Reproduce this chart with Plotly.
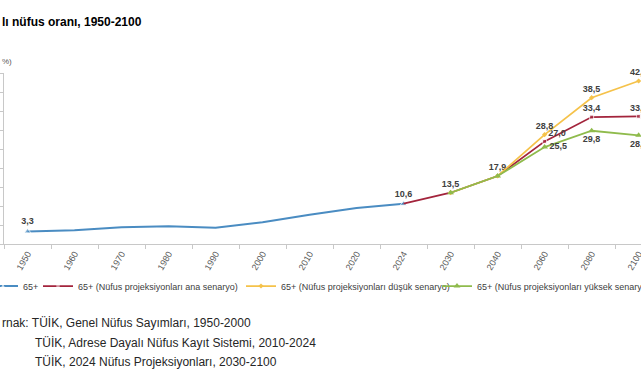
import plotly.graph_objects as go

years = ["1950", "1960", "1970", "1980", "1990", "2000", "2010", "2020", "2024",
         "2030", "2040", "2060", "2080", "2100"]
hist = [3.3, 3.6, 4.4, 4.7, 4.3, 5.7, 7.7, 9.5, 10.6, None, None, None, None, None]
main = [None] * 8 + [10.6, 13.5, 17.9, 27.0, 33.4, 33.6]
low = [None] * 9 + [13.5, 17.9, 28.8, 38.5, 42.9]
high = [None] * 9 + [13.5, 17.9, 25.5, 29.8, 28.6]

names = ["65+",
         "65+ (Nüfus projeksiyonları ana senaryo)",
         "65+ (Nüfus projeksiyonları düşük senaryo)",
         "65+ (Nüfus projeksiyonları yüksek senaryo)"]
colors = ["#4a8cc2", "#a3243c", "#f5c24a", "#8fbb4c"]

W, H = 641, 380
L, R, T, B = 4, 0, 73, 136
pw, ph = W - L - R, H - T - B


def px(x):
    return (x - L) / pw


def py(y):
    return (H - B - y) / ph


def fmt(v):
    return f"{v:.1f}".replace(".", ",")


def labels(vals, idxs):
    return [fmt(v) if (i in idxs and v is not None) else "" for i, v in enumerate(vals)]


FAM = "Liberation Sans, Arial"
lab_font = dict(family=FAM, size=9, color="#404040", weight="bold")

fig = go.Figure()

fig.add_trace(go.Scatter(
    x=years, y=hist, name=names[0], mode="lines+markers+text",
    line=dict(color=colors[0], width=2),
    marker=dict(symbol="triangle-up", size=[6 if i in (0, 8) else 0 for i in range(len(years))],
                color=colors[0]),
    text=labels(hist, {0, 8}), textposition="top center",
    textfont=lab_font, cliponaxis=False, legend="legend"))

fig.add_trace(go.Scatter(
    x=years, y=main, name=names[1], mode="lines+markers+text",
    line=dict(color=colors[1], width=1.75),
    marker=dict(symbol="square", size=[4 if i >= 9 else 0 for i in range(len(years))],
                color=colors[1]),
    text=labels(main, {9, 10, 11, 12, 13}),
    textposition=["top center"] * 11 + ["top right", "top center", "top center"],
    textfont=lab_font, cliponaxis=False, legend="legend2"))

fig.add_trace(go.Scatter(
    x=years, y=low, name=names[2], mode="lines+markers+text",
    line=dict(color=colors[2], width=1.75),
    marker=dict(symbol="diamond", size=4, color=colors[2]),
    text=labels(low, {11, 12, 13}), textposition="top center",
    textfont=lab_font, cliponaxis=False, legend="legend3"))

fig.add_trace(go.Scatter(
    x=years, y=high, name=names[3], mode="lines+markers+text",
    line=dict(color=colors[3], width=1.75),
    marker=dict(symbol="triangle-up", size=6, color=colors[3]),
    text=labels(high, {11, 12, 13}),
    textposition=["bottom center"] * 11 + ["middle right", "bottom center", "bottom center"],
    textfont=lab_font, cliponaxis=False, legend="legend4"))

leg_font = dict(family=FAM, size=9, color="#404040")
leg_y = py(286)


def leg(xpix):
    return dict(x=px(xpix), y=leg_y, xanchor="left", yanchor="middle",
                orientation="h", font=leg_font, bgcolor="rgba(0,0,0,0)",
                itemwidth=30, borderwidth=0)


src_font = dict(family=FAM, size=12, color="#262626")
ann = [
    dict(text="<b>lı nüfus oranı, 1950-2100</b>", x=px(0), y=py(22), xref="paper", yref="paper",
         xanchor="left", yanchor="middle", showarrow=False,
         font=dict(family=FAM, size=12, color="#000000")),
    dict(text="%)", x=px(0), y=py(61), xref="paper", yref="paper",
         xanchor="left", yanchor="middle", showarrow=False,
         font=dict(family=FAM, size=8, color="#595959")),
    dict(text="rnak: TÜİK, Genel Nüfus Sayımları, 1950-2000", x=px(0), y=py(323),
         xref="paper", yref="paper", xanchor="left", yanchor="middle", showarrow=False,
         font=src_font),
    dict(text="TÜİK, Adrese Dayalı Nüfus Kayıt Sistemi, 2010-2024", x=px(33), y=py(343),
         xref="paper", yref="paper", xanchor="left", yanchor="middle", showarrow=False,
         font=src_font),
    dict(text="TÜİK, 2024 Nüfus Projeksiyonları, 2030-2100", x=px(33), y=py(362),
         xref="paper", yref="paper", xanchor="left", yanchor="middle", showarrow=False,
         font=src_font),
]

fig.update_layout(
    width=W, height=H,
    margin=dict(l=L, r=R, t=T, b=B, pad=0, autoexpand=False),
    paper_bgcolor="white", plot_bgcolor="white",
    font=dict(family=FAM, color="#404040"),
    legend=leg(-17), legend2=leg(38), legend3=leg(241), legend4=leg(437),
    annotations=ann,
    xaxis=dict(type="category", categoryorder="array", categoryarray=years,
               range=[-0.5, 13.05], showgrid=False, zeroline=False,
               showline=True, linecolor="#c8c8c8", linewidth=1,
               ticks="outside", tickson="boundaries", ticklen=4, tickcolor="#c8c8c8",
               tickangle=-60, tickfont=dict(family=FAM, size=9, color="#595959"),
               automargin=False, fixedrange=True),
    yaxis=dict(range=[0, 45], dtick=5, showgrid=False, zeroline=False,
               showline=True, linecolor="#c8c8c8", linewidth=1,
               ticks="outside", ticklen=3, tickcolor="#c8c8c8",
               showticklabels=False, automargin=False, fixedrange=True),
    showlegend=True,
)

fig.write_html("out.html", config={"displayModeBar": False},
               post_script="document.body.style.margin='0';document.body.style.overflow='hidden';")
